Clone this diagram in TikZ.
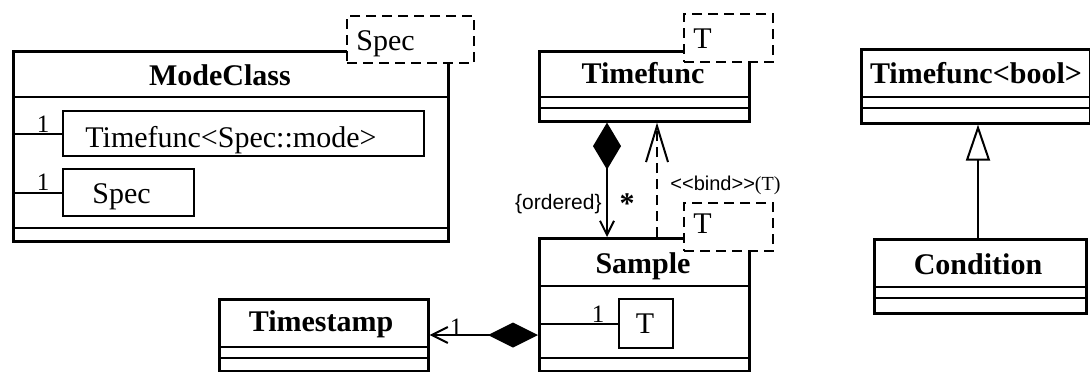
\documentclass[tikz,border=0pt]{standalone}
\usepackage{fontspec}
\setmainfont{Liberation Serif}
\newfontfamily\labfont{Liberation Sans}
\usetikzlibrary{arrows.meta}

\tikzset{
  every node/.style={font=\fontsize{15}{18}\selectfont, inner sep=0pt},
  classbox/.style={draw, line width=1.3pt, anchor=north west, fill=white},
  compline/.style={line width=1.1pt},
  attrbox/.style={draw, line width=1pt, anchor=north west},
  tmplbox/.style={draw, line width=1pt, dash pattern=on 5pt off 3pt, fill=white, anchor=north west},
  title/.style={anchor=base, font=\fontsize{15}{18}\selectfont\bfseries},
  txt/.style={anchor=base west},
  mult/.style={anchor=base, font=\fontsize{12.5}{15}\selectfont},
  small/.style={anchor=base, font=\fontsize{10}{12}\selectfont\labfont},
  link/.style={line width=1pt},
}

\begin{document}
\begin{tikzpicture}[x=0.5pt, y=-0.5pt]
\useasboundingbox (0,0) rectangle (1090,371);

% ---------- ModeClass ----------
\node[classbox, minimum width=217.5pt, minimum height=95pt] (mc) at (12,50) {};
\draw[compline] (12,97) -- (447,97);
\draw[compline] (12,228) -- (447,228);
\node[title] (mct) at (220,85) {ModeClass};
\node[tmplbox, minimum width=63.5pt, minimum height=23.5pt] (mcs) at (346,15) {};
\node[txt] (mcst) at (356,50) {Spec};
\node[attrbox, minimum width=180.5pt, minimum height=22.5pt] (a1) at (62,110) {};
\node[txt] (a1t) at (85,147) {Timefunc<Spec::mode>};
\node[attrbox, minimum width=65.5pt, minimum height=23.5pt] (a2) at (62,168) {};
\node[txt] (a2t) at (92,203) {Spec};
\draw[link] (mc.west |- a1.west) -- (a1.west);
\draw[link] (mc.west |- a2.west) -- (a2.west);
\node[mult] (m1) at (43,132) {1};
\node[mult] (m2) at (43,190) {1};

% ---------- Timefunc ----------
\node[classbox, minimum width=105pt, minimum height=35pt] (tf) at (538,50) {};
\draw[compline] (538,97) -- (748,97);
\draw[compline] (538,108) -- (748,108);
\node[title] (tft) at (643,83) {Timefunc};
\node[tmplbox, minimum width=44.5pt, minimum height=24pt] (tfs) at (683,13) {};
\node[txt] (tfst) at (693,48) {T};

% ---------- Sample ----------
\node[classbox, minimum width=105pt, minimum height=66.5pt] (smp) at (538,237) {};
\draw[compline] (538,286) -- (748,286);
\draw[compline] (538,358) -- (748,358);
\node[title] (smpt) at (643,273) {Sample};
\node[tmplbox, minimum width=44.5pt, minimum height=24pt] (smps) at (683,202) {};
\node[txt] (smpst) at (693,233) {T};
\node[attrbox, minimum width=27pt, minimum height=24.5pt] (a3) at (618,298) {};
\node[title, font=\fontsize{15}{18}\selectfont] (a3t) at (645,333) {T};
\draw[link] (smp.west |- a3.west) -- (a3.west);
\node[mult] (m3) at (598,322) {1};

% ---------- Timestamp ----------
\node[classbox, minimum width=104.5pt, minimum height=36pt] (ts) at (218,298) {};
\draw[compline] (218,347) -- (427,347);
\draw[compline] (218,358) -- (427,358);
\node[title] (tst) at (321,331) {Timestamp};

% ---------- Timefunc<bool> ----------
\node[classbox, minimum width=114.5pt, minimum height=37pt] (tfb) at (860,48) {};
\draw[compline] (860,97) -- (1089,97);
\draw[compline] (860,108) -- (1089,108);
\node[title] (tfbt) at (976,83) {Timefunc<bool>};

% ---------- Condition ----------
\node[classbox, minimum width=106pt, minimum height=37pt] (cond) at (873,238) {};
\draw[compline] (873,287) -- (1085,287);
\draw[compline] (873,298) -- (1085,298);
\node[title] (condt) at (978,274) {Condition};

% ---------- Connectors ----------
% Timefunc owns an ordered set of Samples
\draw[link, {Diamond[length=23.5pt,width=14pt]}-{Straight Barb[length=7pt,width=7pt]}]
  ([xshift=34.5pt]tf.south west) -- ([xshift=34.5pt]smp.north west);
\node[small, anchor=base east, font=\fontsize{10.5}{12}\selectfont\labfont] (ord) at (602,209) {\{ordered\}};
\node[font=\fontsize{15}{18}\selectfont\bfseries] (star) at (627,204) {*};

% Sample binds the template parameter of Timefunc
\draw[link, dash pattern=on 5pt off 3pt, -{Straight Barb[length=18pt,width=11pt]}]
  ([xshift=59.5pt]smp.north west) -- ([xshift=59.5pt]tf.south west);
\node[small, anchor=base west] (bind) at (670,190) {<<bind>>{\rmfamily(T)}};

% Sample owns its Timestamp
\draw[link, {Diamond[length=25pt,width=12.5pt]}-{Straight Barb[length=8pt,width=8pt]}]
  ([yshift=-49pt]smp.north west) -- ([yshift=-18.5pt]ts.north east);
\node[mult] (m4) at (456,335) {1};

% Condition specialises Timefunc<bool>
\draw[link, -{Triangle[open,length=18pt,width=12pt,fill=white]}]
  ([xshift=52.5pt]cond.north west) -- ([xshift=59pt]tfb.south west);
\end{tikzpicture}
\end{document}
